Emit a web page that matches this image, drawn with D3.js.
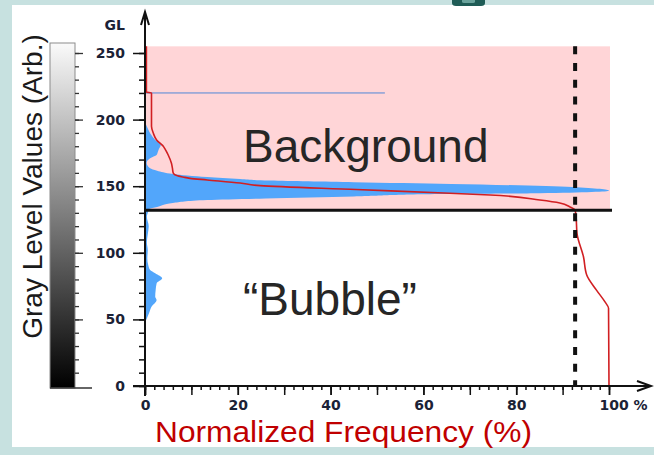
<!DOCTYPE html>
<html>
<head>
<meta charset="utf-8">
<script src="https://cdn.jsdelivr.net/npm/d3@7"></script>
<style>
  html, body { margin: 0; padding: 0; background: #c7e1e0; }
  svg { display: block; }
</style>
</head>
<body>
<svg id="chart" width="654" height="455"></svg>
<script>
// Gray-level histogram: gray level (GL) and normalized frequency (%)
const histLevels = [48, 50, 55, 59.5, 64.6, 67, 72, 77, 80.8, 84.6, 87, 90.8, 96, 102, 108, 114, 120, 127, 131,
  132.9, 134.4, 137.4, 139.6, 140.8, 142.3, 144.1, 144.7, 146.6, 149.4, 151.7, 153, 154.2, 155.4, 156.9, 159.2,
  161.6, 163.4, 167.6, 171, 173.4, 176, 178, 181, 184.7, 189.7, 194, 198.4];
const histFreq = [0, 0.3, 0.9, 1.4, 2.5, 2.2, 2.3, 2.5, 3.7, 2.2, 1.1, 0.7, 0.5, 0.6, 0.4, 0.6, 0.8, 0.4, 0.7,
  0.9, 2.6, 6, 13.4, 26, 45, 63.6, 85, 100, 92, 66, 45, 27, 20.5, 13.4, 6,
  2.6, 1.1, 0.35, 1.1, 2.5, 2.8, 3.0, 3.4, 2.2, 1.1, 0.5, 0];

// Cumulative frequency (%) from the brightest level downwards
const cumLevels = [0, 58.3, 63.3, 72, 83.3, 97, 114.6, 127, 132, 134.4, 137.4, 139.6, 143.4, 144.7, 147.5, 150.4,
  152.4, 154.7, 155.9, 156.9, 157.8, 159.8, 163.7, 167.2, 173.4, 178, 179.7, 184.7, 189.7, 195, 220, 220.6, 255];
const cumFreq = [100, 99.9, 99.1, 97.3, 95.2, 94.5, 93.1, 92.9, 92.7, 91.6, 89.4, 85.1, 74.4, 65.7, 45.5, 24.8,
  20.5, 13.4, 9.7, 8.2, 7, 6.1, 5.9, 5.7, 5, 4.3, 4, 2.5, 1.8, 1.4, 1.4, 0.3, 0.3];

const xTickValues = [0, 20, 40, 60, 80, 100];
const yTickValues = [0, 50, 100, 150, 200, 250];
const thresholdLevel = 132;      // background / bubble split
const cutoffPercent = 92.7;      // cumulative frequency at the threshold
const markerLevel = 220;
const markerPercent = 51.7;
const backgroundRange = [132, 255];
const grayRange = [0, 255];
const xLabel = "Normalized Frequency (%)";
const yLabel = "Gray Level Values (Arb.)";
const regionLabels = ["Background", "\u201CBubble\u201D"];

const svg = d3.select("#chart");
const ink = "#111";
const tickFont = "'DejaVu Sans', Verdana, sans-serif";
const textFont = "'Liberation Sans', Arial, sans-serif";
const tickSize = 14;

// panel frame
svg.append("rect").attr("x", 0).attr("y", 0).attr("width", 654).attr("height", 455).attr("fill", "#c7e1e0");
svg.append("rect").attr("x", 12).attr("y", 5).attr("width", 642).attr("height", 442).attr("fill", "#ffffff");
svg.append("path").attr("d", "M452,0 V3 Q452,6 456,6 H481 Q485,6 485,3 V0 Z").attr("fill", "#1f5c56");
svg.append("path").attr("d", "M462,0 V1.5 Q462,3 464,3 H473 Q475,3 475,1.5 V0 Z").attr("fill", "#6aa39c");

const x = d3.scaleLinear().domain([0, 100]).range([145, 609]);
const y = d3.scaleLinear().domain([0, 250]).range([386, 53]);

// background region
svg.append("rect")
  .attr("x", x(0)).attr("y", y(backgroundRange[1]))
  .attr("width", x(100) - x(0) + 1)
  .attr("height", y(backgroundRange[0]) - y(backgroundRange[1]))
  .attr("fill", "#ffd5d7");

// histogram
const hist = histLevels.map((g, i) => ({ g, f: histFreq[i] }));
svg.append("path").datum(hist)
  .attr("fill", "#52a6fb")
  .attr("d", d3.area().curve(d3.curveMonotoneY)
    .y(d => y(d.g)).x0(x(0)).x1(d => x(d.f)));

// marker line
svg.append("line")
  .attr("x1", x(0)).attr("x2", x(markerPercent))
  .attr("y1", y(markerLevel)).attr("y2", y(markerLevel))
  .attr("stroke", "#4f86d6").attr("stroke-width", 1);

// cumulative curve
const cum = cumLevels.map((g, i) => ({ g, f: cumFreq[i] }));
svg.append("path").datum(cum)
  .attr("fill", "none").attr("stroke", "#d11f22").attr("stroke-width", 1.6)
  .attr("d", d3.line().curve(d3.curveMonotoneY).y(d => y(d.g)).x(d => x(d.f)));

// threshold
svg.append("line")
  .attr("x1", x(0)).attr("x2", x(100) + 3)
  .attr("y1", y(thresholdLevel)).attr("y2", y(thresholdLevel))
  .attr("stroke", ink).attr("stroke-width", 3);

// cutoff
svg.append("line")
  .attr("x1", x(cutoffPercent)).attr("x2", x(cutoffPercent))
  .attr("y1", y(backgroundRange[1])).attr("y2", y(0))
  .attr("stroke", ink).attr("stroke-width", 4)
  .attr("stroke-dasharray", "8,8.7");

// region labels
svg.append("text").attr("x", 243).attr("y", 162).text(regionLabels[0])
  .attr("font-family", textFont).attr("font-size", 46).attr("fill", "#262626");
svg.append("text").attr("x", 243).attr("y", 315).text(regionLabels[1])
  .attr("font-family", textFont).attr("font-size", 46).attr("fill", "#262626");

// y axis
const styleAxis = g => {
  g.select(".domain").remove();
  g.selectAll("line").attr("stroke", ink).attr("stroke-width", 1.5);
  g.selectAll("text").attr("font-family", tickFont).attr("font-weight", "bold")
    .attr("font-size", tickSize).attr("fill", "#1b2236");
};
svg.append("g").attr("transform", `translate(${x(0)},0)`)
  .call(d3.axisLeft(y).tickValues(d3.range(0, 251, 10)).tickSize(6).tickFormat(""))
  .call(styleAxis);
svg.append("g").attr("transform", `translate(${x(0)},0)`)
  .call(d3.axisLeft(y).tickValues(yTickValues).tickSize(12).tickPadding(8))
  .call(styleAxis);

// x axis
svg.append("g").attr("transform", `translate(0,${y(0)})`)
  .call(d3.axisBottom(x).tickValues(d3.range(0, 101, 2)).tickSize(4).tickFormat(""))
  .call(styleAxis);
svg.append("g").attr("transform", `translate(0,${y(0)})`)
  .call(d3.axisBottom(x).tickValues(d3.range(0, 101, 10)).tickSize(9).tickFormat(""))
  .call(styleAxis);
const xAxis = svg.append("g").attr("transform", `translate(0,${y(0)})`)
  .call(d3.axisBottom(x).tickValues(xTickValues).tickSize(9).tickPadding(5))
  .call(styleAxis);
xAxis.selectAll(".tick").filter(d => d === 100).select("text")
  .text("100 %").attr("text-anchor", "start").attr("x", -10);

// axis lines with open arrowheads
svg.append("path").attr("d", `M${x(0)},${y(0) + 10} V12 M${x(0) - 4},25 L${x(0)},12 L${x(0) + 4},25`)
  .attr("fill", "none").attr("stroke", ink).attr("stroke-width", 2);
svg.append("path").attr("d", `M${x(0) - 12},${y(0)} H651 M637,${y(0) - 5} L651,${y(0)} L637,${y(0) + 5}`)
  .attr("fill", "none").attr("stroke", ink).attr("stroke-width", 2);

svg.append("text").attr("x", 125).attr("y", 30).attr("text-anchor", "end").text("GL")
  .attr("font-family", tickFont).attr("font-weight", "bold").attr("font-size", tickSize).attr("fill", "#1b2236");

// gray-level colour bar
const defs = svg.append("defs");
const grad = defs.append("linearGradient").attr("id", "grayBar")
  .attr("x1", 0).attr("x2", 0).attr("y1", 0).attr("y2", 1);
const grayColor = d3.scaleLinear().domain(grayRange).range(["#000000", "#fafafa"]);
[grayRange[1], grayRange[0]].forEach((v, i) => {
  grad.append("stop").attr("offset", i).attr("stop-color", grayColor(v));
});
const barTop = 43, barBottom = 388;
svg.append("rect").attr("x", 50).attr("y", barTop).attr("width", 25).attr("height", barBottom - barTop)
  .attr("fill", "url(#grayBar)").attr("stroke", "#8c8c8c").attr("stroke-width", 1);
svg.append("g").attr("transform", "translate(75,0)")
  .call(d3.axisRight(y).tickValues(d3.range(10, 251, 10)).tickSize(4).tickFormat(""))
  .call(g => { g.select(".domain").remove(); g.selectAll("line").attr("stroke", "#333").attr("stroke-width", 1.3); });
svg.append("g").attr("transform", "translate(75,0)")
  .call(d3.axisRight(y).tickValues(yTickValues.slice(1)).tickSize(8).tickFormat(""))
  .call(g => { g.select(".domain").remove(); g.selectAll("line").attr("stroke", "#333").attr("stroke-width", 1.3); });
svg.append("line").attr("x1", 50).attr("x2", 92).attr("y1", barBottom).attr("y2", barBottom)
  .attr("stroke", "#333").attr("stroke-width", 1.3);

// axis titles
svg.append("text").attr("transform", "translate(42,186.5) rotate(-90)")
  .attr("text-anchor", "middle").text(yLabel)
  .attr("font-family", textFont).attr("font-size", 28).attr("fill", "#1a1a1a");
svg.append("text").attr("x", 343.5).attr("y", 442).attr("text-anchor", "middle").text(xLabel)
  .attr("font-family", textFont).attr("font-size", 29).attr("fill", "#c00000")
  .attr("textLength", 377).attr("lengthAdjust", "spacingAndGlyphs");
</script>
</body>
</html>
